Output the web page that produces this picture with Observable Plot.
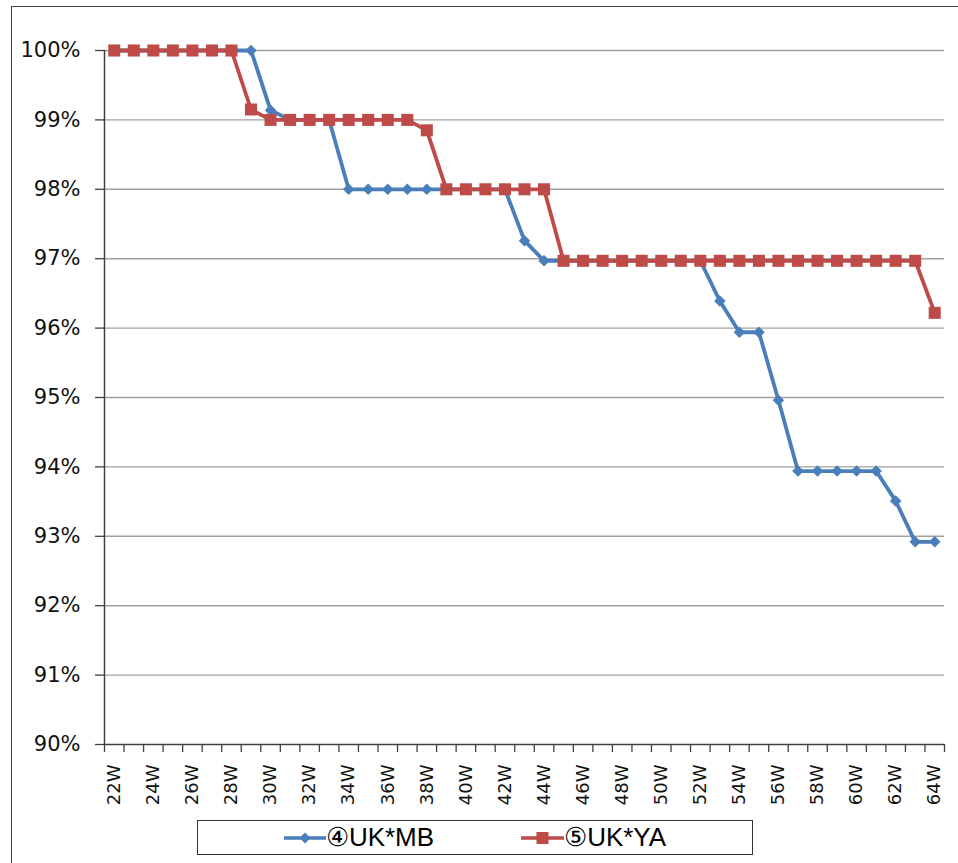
<!DOCTYPE html>
<html>
<head>
<meta charset="utf-8">
<script src="https://cdn.jsdelivr.net/npm/d3@7"></script>
<script src="https://cdn.jsdelivr.net/npm/@observablehq/plot@0.6"></script>
<style>
  html, body { margin: 0; padding: 0; background: #fff; }
  #wrap { position: relative; width: 958px; height: 863px; overflow: hidden; background: #fff; }
  #frame { position: absolute; left: 11px; top: 6px; width: 1000px; height: 900px; border: 1.5px solid #444; box-sizing: border-box; }
  #chart { position: absolute; left: 0; top: 0; }
  #legend { position: absolute; left: 197px; top: 820px; width: 556px; height: 35px; border: 1.5px solid #333; box-sizing: border-box;
    display: flex; align-items: center; justify-content: center; gap: 87px; font-family: "Liberation Sans", Arial, sans-serif; font-size: 26px; color: #000; }
  .item { display: flex; align-items: center; white-space: nowrap; }
</style>
</head>
<body>
<div id="wrap">
  <div id="frame"></div>
  <div id="chart"></div>
  <div id="legend"></div>
</div>
<script>
const weeks = ["22W","23W","24W","25W","26W","27W","28W","29W","30W","31W","32W","33W","34W","35W","36W","37W","38W","39W","40W","41W","42W","43W","44W","45W","46W","47W","48W","49W","50W","51W","52W","53W","54W","55W","56W","57W","58W","59W","60W","61W","62W","63W","64W"];
const seriesNames = ["④UK*MB", "⑤UK*YA"];
const mbValues = [1.00,1.00,1.00,1.00,1.00,1.00,1.00,1.00,0.9914,0.99,0.99,0.99,0.98,0.98,0.98,0.98,0.98,0.98,0.98,0.98,0.98,0.9726,0.9697,0.9697,0.9697,0.9697,0.9697,0.9697,0.9697,0.9697,0.9697,0.9639,0.9594,0.9594,0.9496,0.9394,0.9394,0.9394,0.9394,0.9394,0.9351,0.9292,0.9292];
const yaValues = [1.00,1.00,1.00,1.00,1.00,1.00,1.00,0.9915,0.99,0.99,0.99,0.99,0.99,0.99,0.99,0.99,0.9885,0.98,0.98,0.98,0.98,0.98,0.98,0.9697,0.9697,0.9697,0.9697,0.9697,0.9697,0.9697,0.9697,0.9697,0.9697,0.9697,0.9697,0.9697,0.9697,0.9697,0.9697,0.9697,0.9697,0.9697,0.9622];
const yTicks = [0.90,0.91,0.92,0.93,0.94,0.95,0.96,0.97,0.98,0.99,1.00];
const xLabelEvery = 2;

const blue = "#4a7ebb", red = "#be4b48";
const mb = weeks.map((w, i) => ({i, v: mbValues[i]}));
const ya = weeks.map((w, i) => ({i, v: yaValues[i]}));
const labelIdx = weeks.map((w, i) => i).filter(i => i % xLabelEvery === 0);
const bounds = d3.range(weeks.length + 1).map(i => i - 0.5);

const chart = Plot.plot({
  width: 958,
  height: 810,
  marginLeft: 104,
  marginRight: 14,
  marginTop: 50,
  marginBottom: 66,
  style: {fontFamily: "'DejaVu Sans', Verdana, sans-serif", background: "transparent", color: "#000"},
  x: {type: "linear", domain: [-0.5, weeks.length - 0.5], axis: null},
  y: {type: "linear", domain: [0.90, 1.00], axis: null},
  marks: [
    Plot.gridY(yTicks.slice(1), {stroke: "#a0a0a0", strokeOpacity: 1, strokeWidth: 1.4}),
    Plot.axisY(yTicks, {label: null, tickFormat: d3.format(".0%"), tickSize: 9, tickPadding: 15, fontSize: 21, stroke: "#404040", strokeWidth: 1.3, fill: "#111"}),
    Plot.axisX(labelIdx, {label: null, tickFormat: i => weeks[i], tickSize: 0, tickPadding: 20, tickRotate: -90, fontSize: 18, fill: "#111"}),
    Plot.axisX(bounds, {label: null, tickFormat: () => "", tickSize: 8, stroke: "#404040", strokeWidth: 1.3}),
    Plot.ruleY([0.90], {stroke: "#404040", strokeWidth: 1.5}),
    Plot.ruleX([-0.5], {stroke: "#404040", strokeWidth: 1.5}),
    Plot.line(mb, {x: "i", y: "v", stroke: blue, strokeWidth: 3.8}),
    Plot.dot(mb, {x: "i", y: "v", symbol: "diamond2", r: 5.2, fill: blue}),
    Plot.line(ya, {x: "i", y: "v", stroke: red, strokeWidth: 3.8}),
    Plot.dot(ya, {x: "i", y: "v", symbol: "square", r: 6.8, fill: red})
  ]
});
document.getElementById("chart").appendChild(chart);

const legend = document.getElementById("legend");
const sym = [
  `<svg width="42" height="14"><line x1="0" y1="7" x2="42" y2="7" stroke="${blue}" stroke-width="3.5"/><path d="M21,1.5L26.5,7L21,12.5L15.5,7Z" fill="${blue}"/></svg>`,
  `<svg width="43" height="14"><line x1="0" y1="7" x2="43" y2="7" stroke="${red}" stroke-width="3.5"/><rect x="15.5" y="1" width="12" height="12" fill="${red}"/></svg>`
];
seriesNames.forEach((n, k) => {
  const d = document.createElement("div");
  d.className = "item";
  d.innerHTML = sym[k] + `<span>${n}</span>`;
  legend.appendChild(d);
});
</script>
</body>
</html>
